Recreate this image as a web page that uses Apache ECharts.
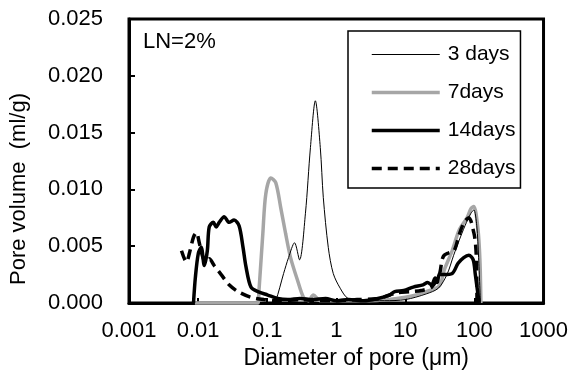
<!DOCTYPE html>
<html>
<head>
<meta charset="utf-8">
<script src="https://cdn.jsdelivr.net/npm/echarts@6/dist/echarts.min.js"></script>
<style>
  html, body { margin: 0; padding: 0; background: #fff; }
  #chart { width: 571px; height: 376px; }
</style>
</head>
<body>
<div id="chart"></div>
<script>
const seriesNames = ["3 days", "7days", "14days", "28days"]
const xTickLabels = ["0.001", "0.01", "0.1", "1", "10", "100", "1000"]

// pore diameter (um) / pore volume (ml/g)
const days3X = [0.12, 0.133, 0.173, 0.204, 0.249, 0.294, 0.358, 0.423, 0.498, 0.587, 0.649, 0.766, 0.904, 1.14, 1.48, 2.5, 5, 10, 20, 30, 40, 50, 60, 73, 89, 98, 108, 115, 122]
const days3Y = [0, 0.0002, 0.0026, 0.0040, 0.0053, 0.0038, 0.0079, 0.0137, 0.0178, 0.0137, 0.0093, 0.0049, 0.0026, 0.0013, 0.0004, 0.0002, 0.0002, 0.0003, 0.0008, 0.0013, 0.0025, 0.0042, 0.0055, 0.0068, 0.0079, 0.0082, 0.0068, 0.0040, 0]

const days7X = [0.009, 0.0733, 0.0759, 0.0865, 0.0955, 0.113, 0.133, 0.157, 0.185, 0.218, 0.275, 0.335, 0.395, 0.466, 0.587, 1, 3, 10, 20, 31, 36.5, 47.6, 60, 78, 89, 98, 112, 120, 124]
const days7Y = [0, 0, 0.0010, 0.0061, 0.0096, 0.0110, 0.0106, 0.0084, 0.0061, 0.0040, 0.0020, 0.0005, 0.0002, 0.0007, 0.0002, 0.0002, 0.0002, 0.0005, 0.0010, 0.0015, 0.0029, 0.0046, 0.0064, 0.0075, 0.0083, 0.0085, 0.0066, 0.0038, 0]

const days14X = [0.00858, 0.00915, 0.0101, 0.0111, 0.0123, 0.0136, 0.0145, 0.0166, 0.0183, 0.0202, 0.0239, 0.0281, 0.0332, 0.0392, 0.0447, 0.0493, 0.0582, 0.0733, 0.102, 0.142, 0.2, 0.3, 0.45, 0.7, 1, 1.5, 2.5, 4, 5.9, 7, 9.5, 13, 18, 21, 24, 27, 29, 31, 36, 47.6, 58, 70, 83, 96, 103, 117]
const days14Y = [0, 0.0023, 0.0044, 0.0049, 0.0033, 0.0046, 0.0067, 0.0071, 0.0067, 0.0071, 0.0076, 0.0071, 0.0073, 0.0068, 0.0049, 0.0032, 0.0014, 0.0010, 0.0007, 0.0004, 0.0003, 0.0004, 0.0003, 0.0004, 0.0002, 0.0003, 0.0002, 0.0004, 0.0007, 0.0010, 0.0011, 0.0014, 0.0016, 0.0018, 0.0016, 0.0022, 0.0018, 0.0025, 0.0025, 0.0026, 0.0035, 0.0040, 0.0042, 0.0038, 0.0025, 0]

const days28X = [0.00575, 0.00679, 0.0075, 0.00858, 0.00946, 0.0104, 0.0119, 0.0132, 0.0145, 0.0171, 0.0216, 0.0281, 0.0379, 0.0582, 0.0894, 0.15, 0.3, 0.6, 1, 2, 4, 5.9, 7.5, 12, 17, 24, 31, 34, 36.5, 42, 50.8, 60, 71, 83, 98, 104, 107, 109]
const days28Y = [0.0046, 0.0036, 0.0044, 0.0058, 0.0062, 0.0053, 0.0039, 0.0036, 0.0039, 0.0033, 0.0025, 0.0016, 0.0010, 0.0005, 0.0003, 0.0002, 0.0003, 0.0002, 0.0002, 0.0003, 0.0004, 0.0007, 0.0009, 0.0010, 0.0011, 0.0014, 0.0025, 0.0038, 0.0042, 0.0044, 0.0046, 0.0060, 0.0071, 0.0075, 0.0062, 0.0051, 0.0036, 0]

const font = "'Liberation Sans', Arial, sans-serif"

const pairs = (xs, ys) => xs.map((x, i) => [x, ys[i]])

const chart = echarts.init(document.getElementById("chart"))

const option = {
  backgroundColor: "#fff",
  animation: false,
  textStyle: { fontFamily: font, color: "#000" },
  grid: {
    left: 127,
    right: 26,
    top: 19,
    bottom: 73,
    show: true,
    borderColor: "#000",
    borderWidth: 3,
    backgroundColor: "transparent",
  },
  legend: {
    orient: "vertical",
    left: 348,
    top: 31,
    padding: [13, 5, 9, 22],
    itemWidth: 68,
    itemHeight: 14,
    itemGap: 17,
    borderColor: "#000",
    borderWidth: 1.5,
    backgroundColor: "#fff",
    itemStyle: { opacity: 0 },
    textStyle: { fontFamily: font, fontSize: 21, color: "#000", padding: [0, 0, 0, 3] },
    data: [
      { name: seriesNames[0], lineStyle: { width: 1 } },
      { name: seriesNames[1], lineStyle: { width: 3.5 } },
      { name: seriesNames[2], lineStyle: { width: 3.5 } },
      { name: seriesNames[3], lineStyle: { width: 3.5 } },
    ],
  },
  graphic: [
    {
      type: "text",
      left: 143,
      top: 31,
      style: { text: "LN=2%", fontFamily: font, fontSize: 22, fill: "#000" },
    },
  ],
  xAxis: {
    type: "log",
    logBase: 10,
    min: 0.001,
    max: 1000,
    interval: 1,
    name: "Diameter of pore (μm)",
    nameLocation: "middle",
    nameGap: 37,
    nameTextStyle: { fontFamily: font, fontSize: 23, color: "#000", padding: [0, 0, 0, 40] },
    axisLine: { lineStyle: { color: "#000", width: 3 } },
    axisTick: { inside: true, length: 5, lineStyle: { color: "#000", width: 2 } },
    axisLabel: {
      margin: 17,
      fontFamily: font,
      fontSize: 22,
      color: "#000",
      formatter: (v) => xTickLabels[Math.round(Math.log10(v)) + 3],
    },
    splitLine: { show: false },
    minorTick: { show: false },
  },
  yAxis: {
    type: "value",
    min: 0,
    max: 0.025,
    interval: 0.005,
    name: "Pore volume  (ml/g)",
    nameLocation: "middle",
    nameGap: 99,
    nameTextStyle: { fontFamily: font, fontSize: 22, color: "#000", padding: [0, 56, 0, 0] },
    axisLine: { show: true, lineStyle: { color: "#000", width: 3 } },
    axisTick: { show: true, inside: true, length: 6, lineStyle: { color: "#000", width: 2 } },
    axisLabel: {
      margin: 26,
      fontFamily: font,
      fontSize: 22,
      color: "#000",
      formatter: (v) => v.toFixed(3),
    },
    splitLine: { show: false },
  },
  series: [
    {
      name: seriesNames[0],
      type: "line",
      data: pairs(days3X, days3Y),
      smooth: 0.3,
      symbol: "none",
      clip: false,
      z: 3,
      lineStyle: { color: "#000", width: 1 },
      itemStyle: { color: "#000" },
    },
    {
      name: seriesNames[1],
      type: "line",
      data: pairs(days7X, days7Y),
      smooth: 0.3,
      symbol: "none",
      clip: false,
      z: 2,
      lineStyle: { color: "#a6a6a6", width: 3.5 },
      itemStyle: { color: "#a6a6a6" },
    },
    {
      name: seriesNames[2],
      type: "line",
      data: pairs(days14X, days14Y),
      smooth: 0.3,
      symbol: "none",
      clip: false,
      z: 4,
      lineStyle: { color: "#000", width: 3.5 },
      itemStyle: { color: "#000" },
    },
    {
      name: seriesNames[3],
      type: "line",
      data: pairs(days28X, days28Y),
      smooth: 0.3,
      symbol: "none",
      clip: false,
      z: 5,
      lineStyle: { color: "#000", width: 3.5, type: [10, 6] },
      itemStyle: { color: "#000" },
    },
  ],
}

chart.setOption(option)
</script>
</body>
</html>
